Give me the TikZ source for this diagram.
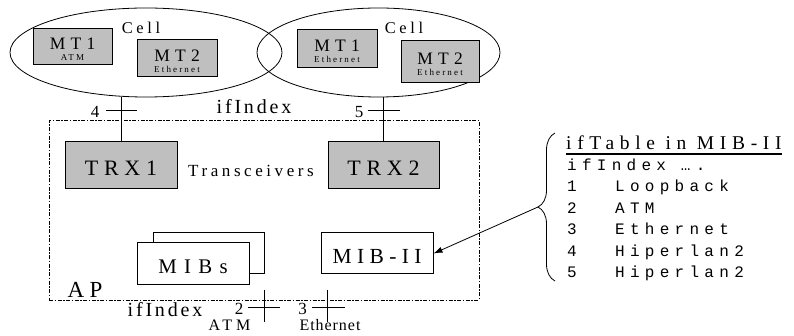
\documentclass[tikz,border=0pt]{standalone}
\usepackage{fontspec}
\setmainfont{Liberation Serif}
\setmonofont{Liberation Mono}
\usetikzlibrary{shapes.geometric,arrows.meta,decorations.pathreplacing}
\newcommand{\mtlabel}[2]{{\fontsize{17.5}{15}\selectfont\addfontfeature{LetterSpace=30}\rule{0pt}{17pt}#1}\\{\fontsize{9}{8}\selectfont\addfontfeature{LetterSpace=24}#2}}

\begin{document}
\begin{tikzpicture}[%
    x=1pt,y=-1pt,
    ls/.style 2 args={inner sep=0pt,font=\fontsize{#1}{#1}\selectfont\addfontfeature{LetterSpace=#2}},
    cell/.style={ellipse,draw,line width=0.8pt,inner sep=0pt},
    mt/.style={rectangle,draw,line width=1pt,fill=black!25,minimum width=80pt,minimum height=37pt,align=center,inner sep=0pt,font=\fontsize{10}{11}\selectfont},
    trx/.style={rectangle,draw,line width=1pt,fill=black!25,minimum width=112pt,minimum height=47pt,ls={22}{26},text height=20.6pt,text depth=0pt},
    mib/.style={rectangle,draw,line width=1pt,fill=white,minimum width=112pt,minimum height=41pt},
    apbox/.style={rectangle,draw,line width=1pt,dash pattern=on 4pt off 1.5pt on 1.5pt off 1.5pt},
    tick/.style={line width=0.8pt},
    row/.style={anchor=base west,inner sep=0pt,font=\ttfamily\fontsize{16}{16}\selectfont\addfontfeature{LetterSpace=33}}
  ]
		\useasboundingbox (0,0) rectangle (794,336);

		\node at (146,52.5) [cell,minimum width=272pt,minimum height=89pt] (cellA) {};
		\node at (378.5,52.5) [cell,minimum width=243pt,minimum height=89pt] (cellB) {};
		\node at (141,27.5) [ls={16.4}{22}] (cellAtxt) {Cell};
		\node at (404,27.5) [ls={16.4}{22}] (cellBtxt) {Cell};

		\node at (72.5,47) [mt,minimum width=79pt,minimum height=36pt] (mt1a) {\mtlabel{MT1}{ATM}};
		\node at (177,58.5) [mt] (mt2a) {\mtlabel{MT2}{Ethernet}};
		\node at (337,49) [mt,minimum height=38pt] (mt1b) {\mtlabel{MT1}{Ethernet}};
		\node at (440,62) [mt,minimum width=78pt,minimum height=42pt] (mt2b) {\mtlabel{MT2}{Ethernet}};

		\node at (264,210.5) [apbox,minimum width=430pt,minimum height=179pt] (ap) {};
		\node at (85,290) [ls={23}{24}] (aptxt) {AP};

		\node at (121,165.5) [trx] (trx1) {TRX1};
		\node at (383.5,165.5) [trx,minimum width=111pt] (trx2) {TRX2};
		\node at (251,171) [ls={17}{21}] (trxtxt) {Transceivers};

		\draw[line width=0.8pt] (trx1.north) -- (trx1.north |- cellA.south);
		\draw[line width=0.8pt] (trx2.north) -- (trx2.north |- cellB.south);

		\coordinate (tickrow) at (0,110);
		\coordinate (if4) at (trx1.north |- tickrow);
		\coordinate (if5) at (trx2.north |- tickrow);
		\draw[tick] ([xshift=-15pt]if4) -- ([xshift=16pt]if4);
		\draw[tick] ([xshift=-16pt]if5) -- ([xshift=16pt]if5);
		\node at (95,112) [ls={17}{0}] (n4) {4};
		\node at (359,112) [ls={17}{0}] (n5) {5};
		\node at (254,107) [ls={20}{14}] (idxtop) {ifIndex};

		\node at (208.5,253.5) [mib,minimum width=111pt] (mibsback) {};
		\node at (193,264) [mib,minimum height=42pt,ls={20.8}{35},text height=19.8pt,text depth=0pt] (mibs) {MIBs};
		\node at (377,253.5) [mib,ls={21.5}{25},text height=20.2pt,text depth=0pt] (mib2) {MIB-II};

		\coordinate (if2) at (264,307);
		\coordinate (if3) at (327,307);
		\draw[tick] ([yshift=17pt]if2) -- ([yshift=-15pt]if2);
		\draw[tick] ([xshift=-16pt]if2) -- ([xshift=16pt]if2);
		\draw[tick] ([yshift=17pt]if3) -- ([yshift=-15pt]if3);
		\draw[tick] ([xshift=-15pt]if3) -- ([xshift=18pt]if3);
		\node at (239,309) [ls={17}{0}] (n2) {2};
		\node at (302.5,309) [ls={17}{0}] (n3) {3};
		\node at (165,310) [ls={20}{14}] (idxbot) {ifIndex};
		\node at (229.5,325.5) [ls={16}{25}] (atmtxt) {ATM};
		\node at (330,325.5) [ls={16}{6}] (ethtxt) {Ethernet};

		\node at (566,150) [anchor=base west,ls={19.5}{29}] (tbltitle) {ifTable in MIB-II};
		\draw[line width=1.3pt] ([yshift=-4pt]tbltitle.base west) -- ([yshift=-4pt]tbltitle.base east);
		\node at (567,171) [row] (r0) {ifIndex ….};
		\node at (567,192) [row] (r1) {1};
		\node at (615,192) [row] (r1n) {Loopback};
		\node at (567,213.5) [row] (r2) {2};
		\node at (615,213.5) [row] (r2n) {ATM};
		\node at (567,235) [row] (r3) {3};
		\node at (615,235) [row] (r3n) {Ethernet};
		\node at (567,256.5) [row] (r4) {4};
		\node at (615,256.5) [row] (r4n) {Hiperlan2};
		\node at (567,278) [row] (r5) {5};
		\node at (615,278) [row] (r5n) {Hiperlan2};

		\draw[decorate,decoration={brace,amplitude=17pt},line width=0.8pt] (555,281) -- (555,133);
		\coordinate (btip) at (538,207);
		\draw[-{Latex[length=9pt,width=6pt]},line width=0.8pt] (btip) -- (mib2.east);
	\end{tikzpicture}
\end{document}
